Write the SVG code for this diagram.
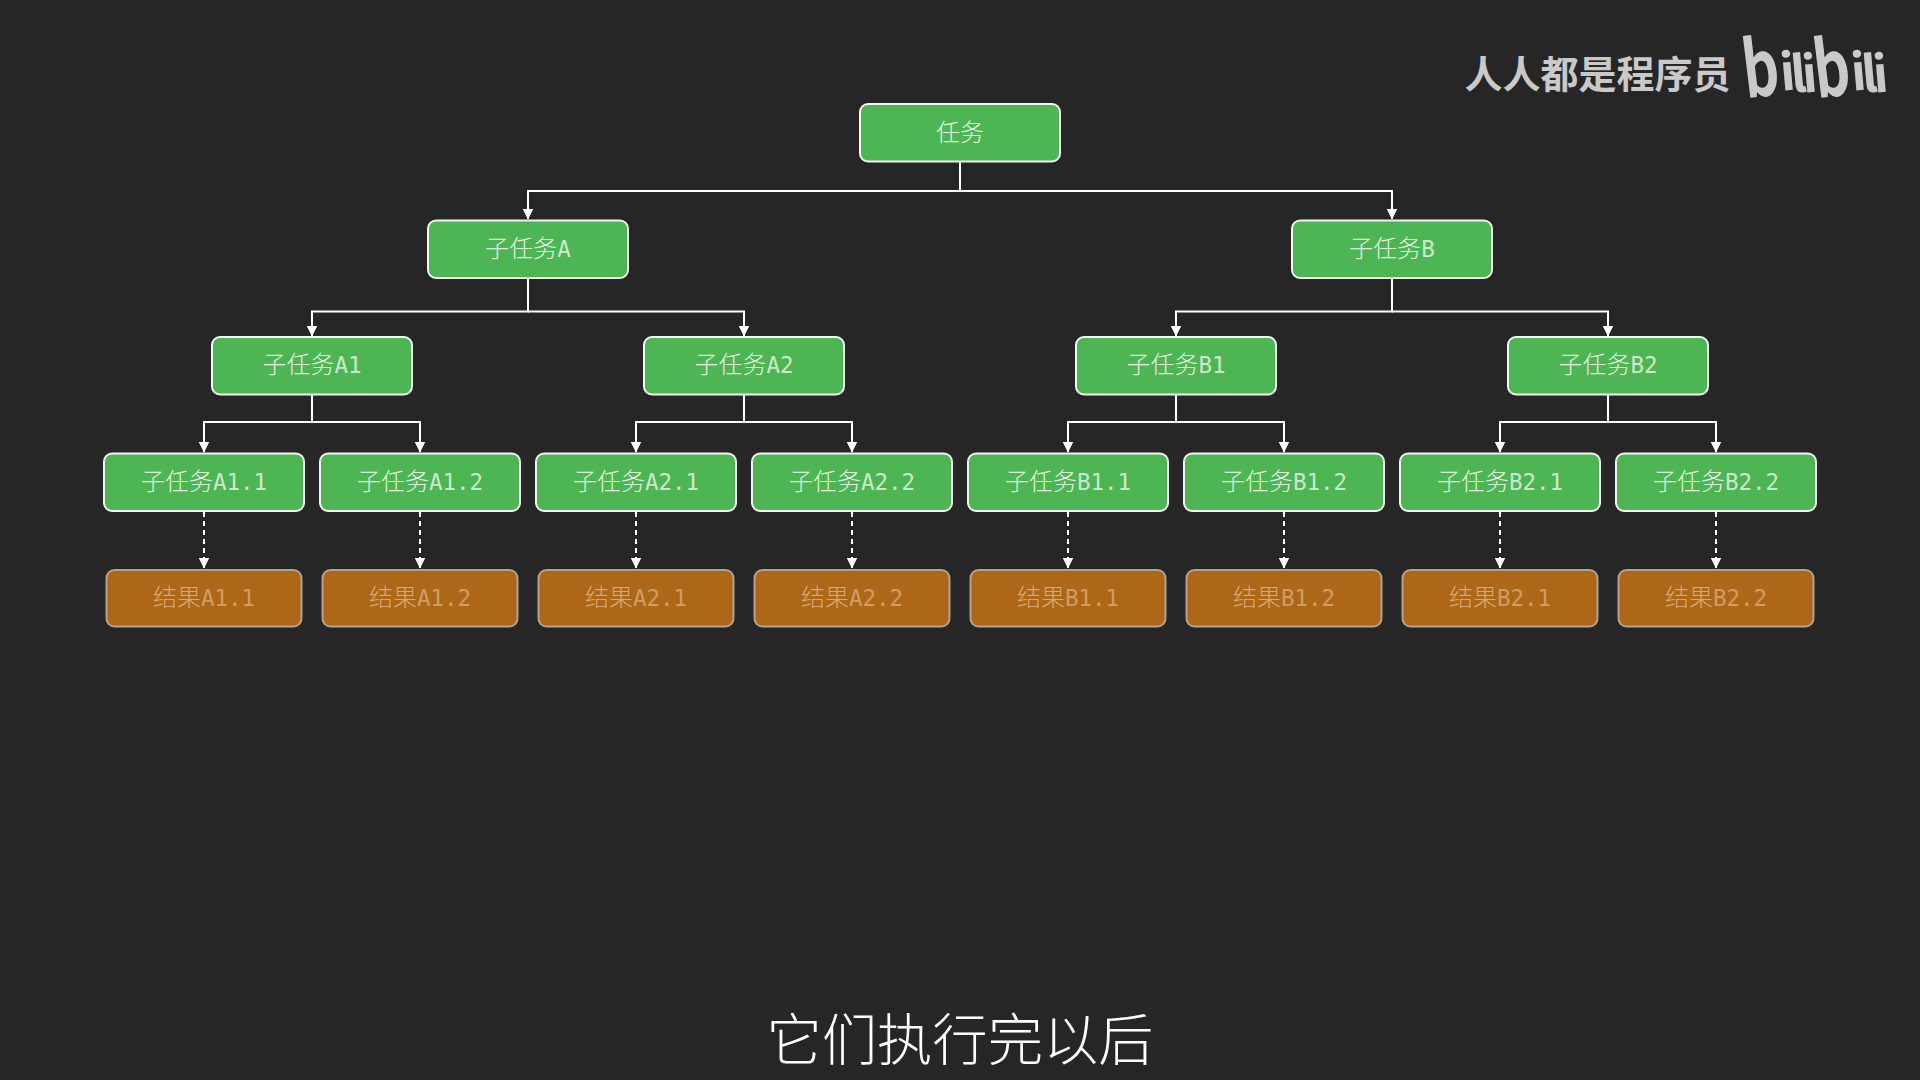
<svg xmlns="http://www.w3.org/2000/svg" width="1920" height="1080" viewBox="0 0 1920 1080">
<style>
text{font-family:"Noto Sans CJK SC","Noto Sans",sans-serif;text-anchor:middle}
.g rect{fill:#4db553;stroke:#f4f4f4;stroke-width:2}
.o rect{fill:#ad6718;stroke:#b7a290;stroke-width:2}
.g text{font-size:24px;font-weight:300;fill:#e4f4e2}
.o text{font-size:24px;font-weight:300;fill:#d9a873}
.m{font-family:"DejaVu Sans Mono",monospace;font-size:22.500px;fill-opacity:.85}
.c path{fill:none;stroke:#fff;stroke-width:2}
.c .d{stroke-dasharray:5 4}
.logo{fill:#c9c9c9;font-weight:700}
.sub{fill:#fff;font-size:55.300px;font-weight:300}
</style>
<defs>
<marker id="a" markerUnits="userSpaceOnUse" markerWidth="11" markerHeight="11" refX="10.500" refY="5.500" orient="auto"><path d="M0 0L11 5.500L0 11Z" fill="#fff"/></marker>
</defs>
<rect width="1920" height="1080" fill="#262626"/>
<g class="c" id="connectors">
<path d="M960 162V191H528V219" marker-end="url(#a)"/><path d="M960 191H1392V219" marker-end="url(#a)"/>
<path d="M528 279V311.500H312V336" marker-end="url(#a)"/><path d="M528 311.500H744V336" marker-end="url(#a)"/>
<path d="M1392 279V311.500H1176V336" marker-end="url(#a)"/><path d="M1392 311.500H1608V336" marker-end="url(#a)"/>
<path d="M312 395V422H204V452" marker-end="url(#a)"/><path d="M312 422H420V452" marker-end="url(#a)"/>
<path d="M744 395V422H636V452" marker-end="url(#a)"/><path d="M744 422H852V452" marker-end="url(#a)"/>
<path d="M1176 395V422H1068V452" marker-end="url(#a)"/><path d="M1176 422H1284V452" marker-end="url(#a)"/>
<path d="M1608 395V422H1500V452" marker-end="url(#a)"/><path d="M1608 422H1716V452" marker-end="url(#a)"/>
<path class="d" d="M204 512V568" marker-end="url(#a)"/><path class="d" d="M420 512V568" marker-end="url(#a)"/>
<path class="d" d="M636 512V568" marker-end="url(#a)"/><path class="d" d="M852 512V568" marker-end="url(#a)"/>
<path class="d" d="M1068 512V568" marker-end="url(#a)"/><path class="d" d="M1284 512V568" marker-end="url(#a)"/>
<path class="d" d="M1500 512V568" marker-end="url(#a)"/><path class="d" d="M1716 512V568" marker-end="url(#a)"/>
</g>
<g class="g" id="n-root"><rect x="860" y="104" width="200" height="57.500" rx="8"/><text x="960" y="141">任务</text></g>
<g class="g" id="n-a"><rect x="428" y="220.500" width="200" height="57.500" rx="8"/><text x="528" y="257">子任务<tspan class="m">A</tspan></text></g>
<g class="g" id="n-b"><rect x="1292" y="220.500" width="200" height="57.500" rx="8"/><text x="1392" y="257">子任务<tspan class="m">B</tspan></text></g>
<g class="g" id="n-a1"><rect x="212" y="337" width="200" height="57.500" rx="8"/><text x="312" y="373">子任务<tspan class="m">A1</tspan></text></g>
<g class="g" id="n-a2"><rect x="644" y="337" width="200" height="57.500" rx="8"/><text x="744" y="373">子任务<tspan class="m">A2</tspan></text></g>
<g class="g" id="n-b1"><rect x="1076" y="337" width="200" height="57.500" rx="8"/><text x="1176" y="373">子任务<tspan class="m">B1</tspan></text></g>
<g class="g" id="n-b2"><rect x="1508" y="337" width="200" height="57.500" rx="8"/><text x="1608" y="373">子任务<tspan class="m">B2</tspan></text></g>
<g class="g" id="n-a11"><rect x="104" y="453.500" width="200" height="57.500" rx="8"/><text x="204" y="489.500">子任务<tspan class="m">A1.1</tspan></text></g>
<g class="g" id="n-a12"><rect x="320" y="453.500" width="200" height="57.500" rx="8"/><text x="420" y="489.500">子任务<tspan class="m">A1.2</tspan></text></g>
<g class="g" id="n-a21"><rect x="536" y="453.500" width="200" height="57.500" rx="8"/><text x="636" y="489.500">子任务<tspan class="m">A2.1</tspan></text></g>
<g class="g" id="n-a22"><rect x="752" y="453.500" width="200" height="57.500" rx="8"/><text x="852" y="489.500">子任务<tspan class="m">A2.2</tspan></text></g>
<g class="g" id="n-b11"><rect x="968" y="453.500" width="200" height="57.500" rx="8"/><text x="1068" y="489.500">子任务<tspan class="m">B1.1</tspan></text></g>
<g class="g" id="n-b12"><rect x="1184" y="453.500" width="200" height="57.500" rx="8"/><text x="1284" y="489.500">子任务<tspan class="m">B1.2</tspan></text></g>
<g class="g" id="n-b21"><rect x="1400" y="453.500" width="200" height="57.500" rx="8"/><text x="1500" y="489.500">子任务<tspan class="m">B2.1</tspan></text></g>
<g class="g" id="n-b22"><rect x="1616" y="453.500" width="200" height="57.500" rx="8"/><text x="1716" y="489.500">子任务<tspan class="m">B2.2</tspan></text></g>
<g class="o" id="r-a11"><rect x="106.500" y="570" width="195" height="56.500" rx="8"/><text x="204" y="605.500">结果<tspan class="m">A1.1</tspan></text></g>
<g class="o" id="r-a12"><rect x="322.500" y="570" width="195" height="56.500" rx="8"/><text x="420" y="605.500">结果<tspan class="m">A1.2</tspan></text></g>
<g class="o" id="r-a21"><rect x="538.500" y="570" width="195" height="56.500" rx="8"/><text x="636" y="605.500">结果<tspan class="m">A2.1</tspan></text></g>
<g class="o" id="r-a22"><rect x="754.500" y="570" width="195" height="56.500" rx="8"/><text x="852" y="605.500">结果<tspan class="m">A2.2</tspan></text></g>
<g class="o" id="r-b11"><rect x="970.500" y="570" width="195" height="56.500" rx="8"/><text x="1068" y="605.500">结果<tspan class="m">B1.1</tspan></text></g>
<g class="o" id="r-b12"><rect x="1186.500" y="570" width="195" height="56.500" rx="8"/><text x="1284" y="605.500">结果<tspan class="m">B1.2</tspan></text></g>
<g class="o" id="r-b21"><rect x="1402.500" y="570" width="195" height="56.500" rx="8"/><text x="1500" y="605.500">结果<tspan class="m">B2.1</tspan></text></g>
<g class="o" id="r-b22"><rect x="1618.500" y="570" width="195" height="56.500" rx="8"/><text x="1716" y="605.500">结果<tspan class="m">B2.2</tspan></text></g>
<text class="logo" x="1597.500" y="87.500" font-size="38">人人都是程序员</text>
<g class="logo" id="logo" style="font-family:'Liberation Sans',sans-serif">
<text transform="translate(1764 96) rotate(-7) scale(.72 1)" font-size="78">b</text>
<text transform="translate(1789 90) rotate(-5)" font-size="50">i</text>
<text transform="translate(1800 92) rotate(-5)" font-size="50">l</text>
<text transform="translate(1811 92) rotate(-5)" font-size="50">i</text>
<text transform="translate(1835 96) rotate(-7) scale(.72 1)" font-size="78">b</text>
<text transform="translate(1860 90) rotate(-5)" font-size="50">i</text>
<text transform="translate(1871 92) rotate(-5)" font-size="50">l</text>
<text transform="translate(1882 92) rotate(-5)" font-size="50">i</text>
</g>
<text class="sub" x="960" y="1060">它们执行完以后</text>
</svg>
